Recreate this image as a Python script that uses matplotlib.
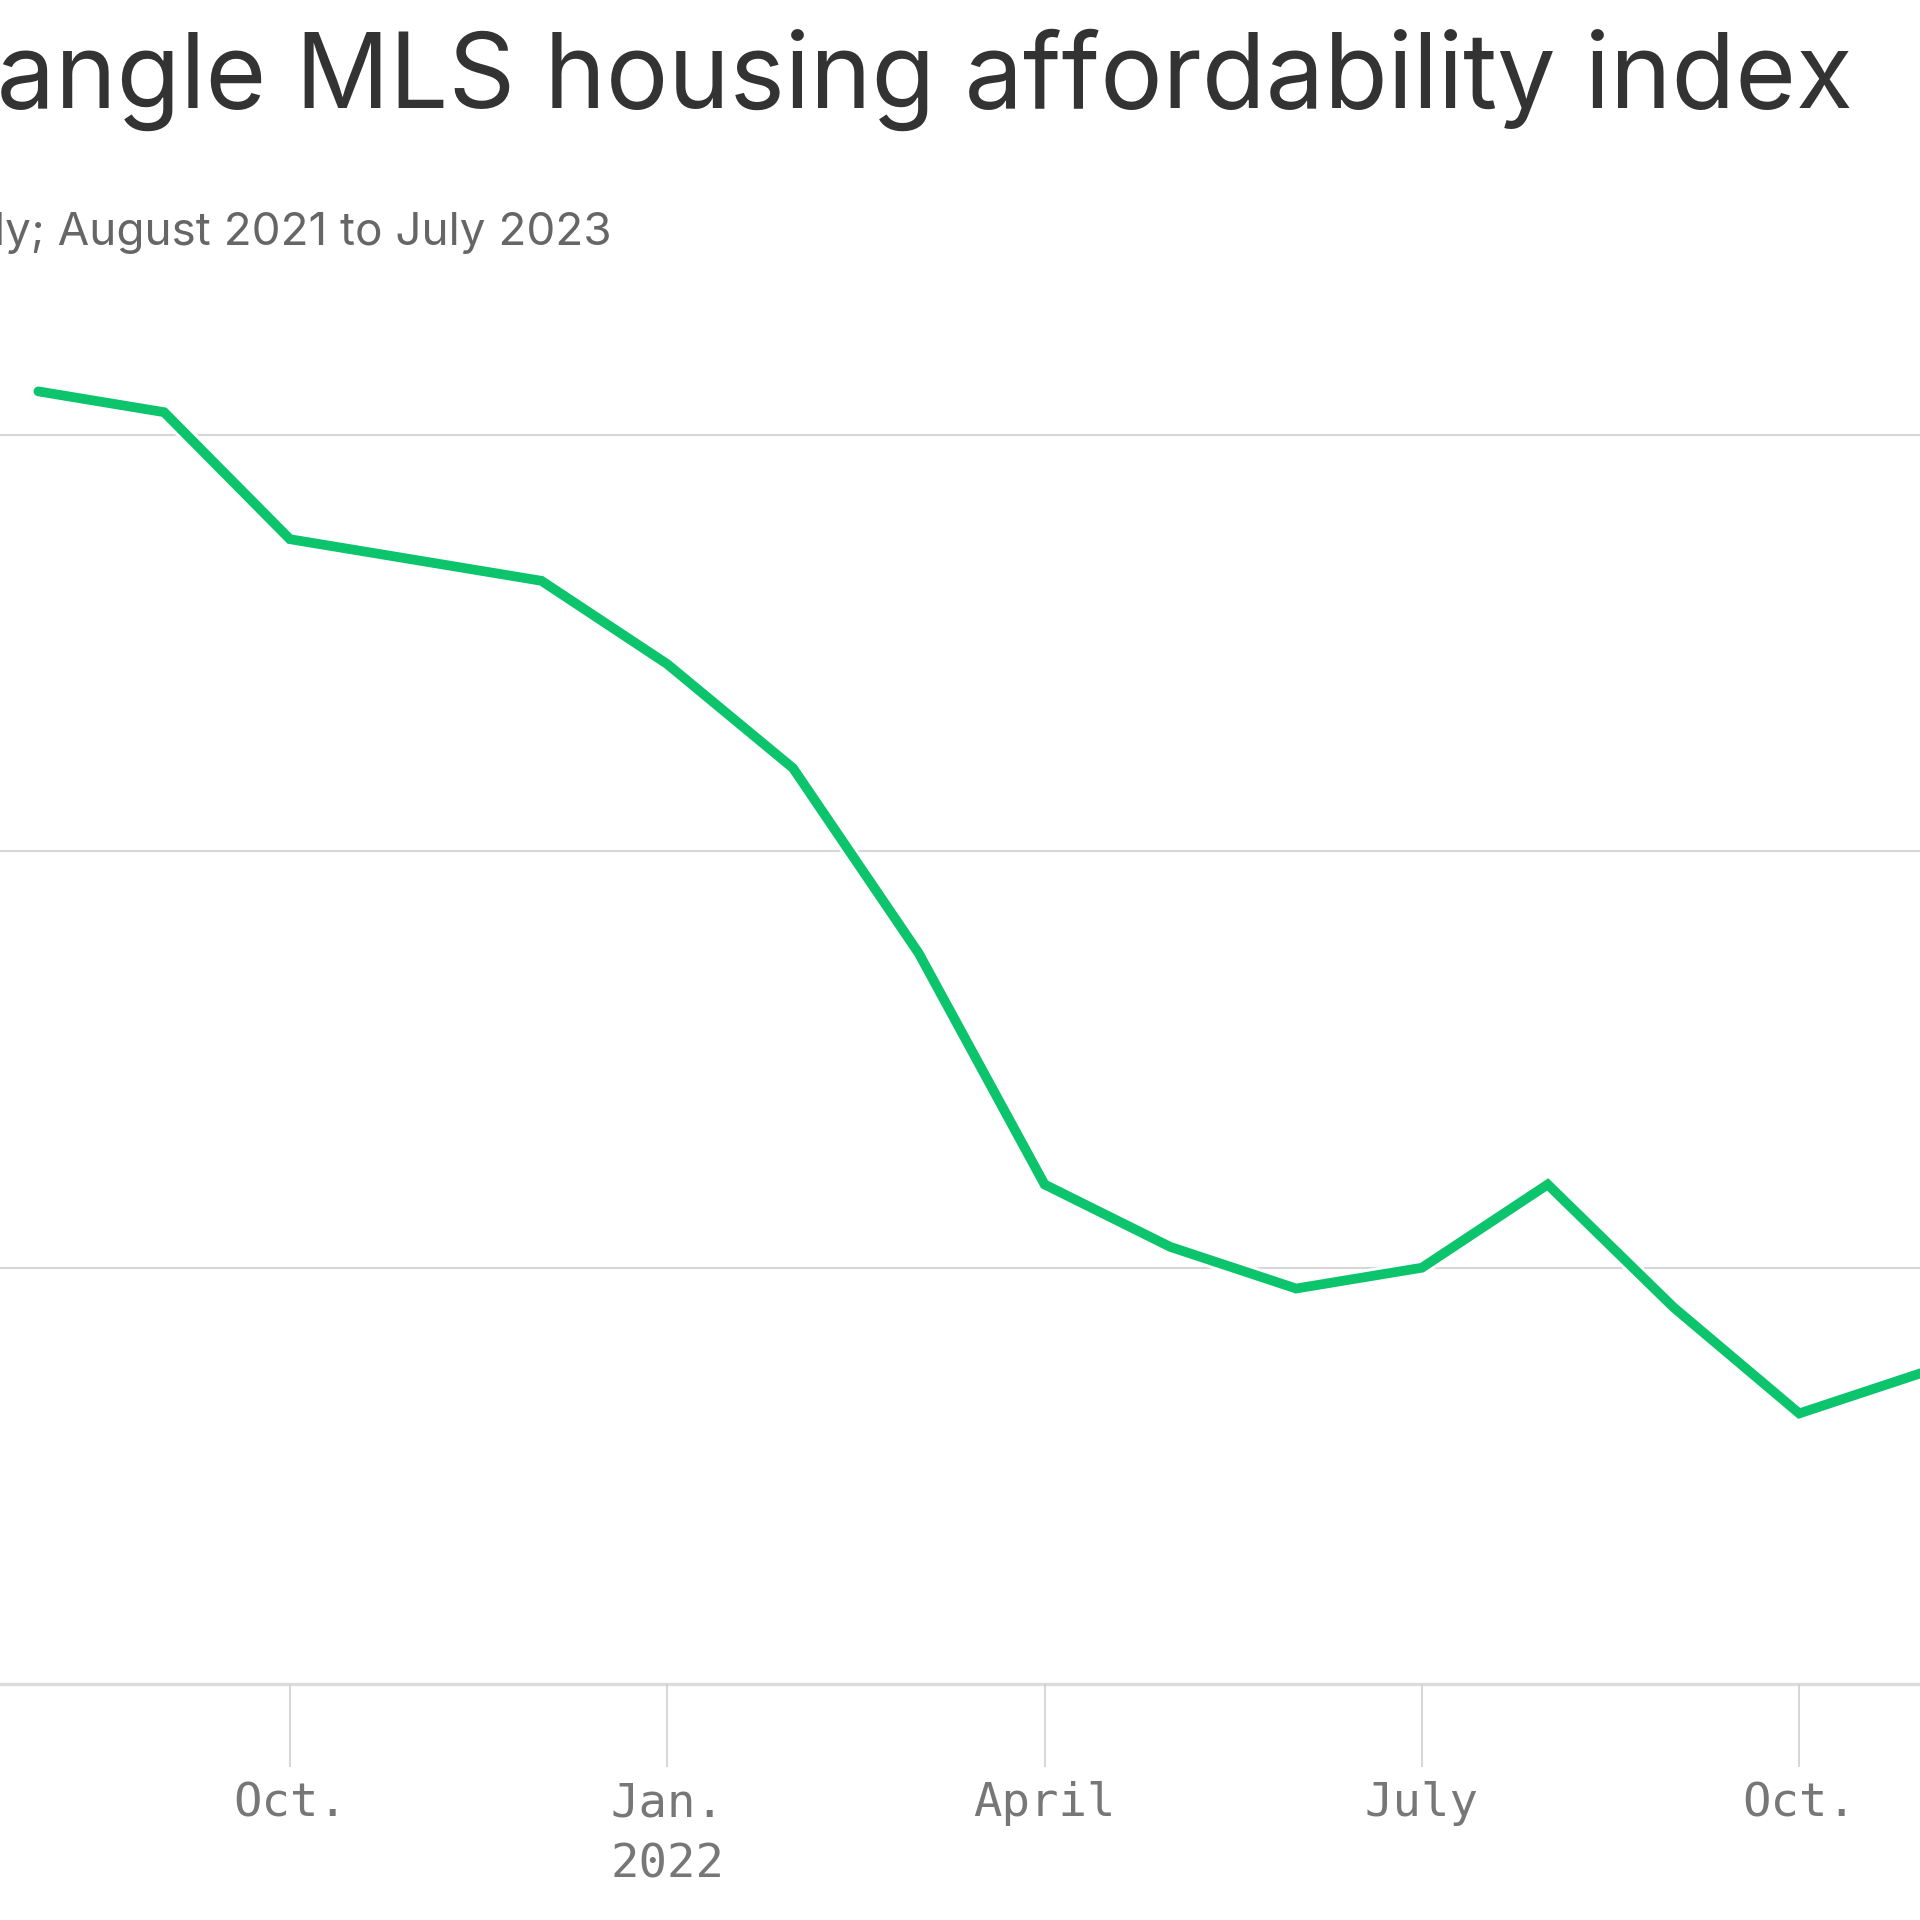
import matplotlib.pyplot as plt
import matplotlib.patheffects as pe

# Triangle MLS housing affordability index, monthly (visible part only)
months = ['Aug 2021', 'Sep 2021', 'Oct 2021', 'Nov 2021', 'Dec 2021',
          'Jan 2022', 'Feb 2022', 'Mar 2022', 'Apr 2022', 'May 2022',
          'Jun 2022', 'Jul 2022', 'Aug 2022', 'Sep 2022', 'Oct 2022',
          'Nov 2022']
index_values = [122.1, 121.1, 115.0, 114.0, 113.0,
                109.0, 104.0, 95.1, 84.0, 81.0,
                79.0, 80.0, 84.0, 78.1, 73.0,
                75.0]

tick_months = ['Oct 2021', 'Jan 2022', 'Apr 2022', 'Jul 2022', 'Oct 2022']
tick_labels = ['Oct.', 'Jan.\n2022', 'April', 'July', 'Oct.']
grid_values = [60, 80, 100, 120]

title = 'Triangle MLS housing affordability index'
subtitle = 'Monthly; August 2021 to July 2023'

x = list(range(len(months)))

fig = plt.figure(figsize=(19.2, 19.2), dpi=100)
fig.patch.set_facecolor('white')

ax = fig.add_axes([0, 0.1229, 1, 0.7177])
ax.plot(x, index_values, color='#0bc46c', linewidth=7,
        solid_capstyle='round', solid_joinstyle='miter', zorder=3,
        path_effects=[pe.Stroke(linewidth=11, foreground='white'), pe.Normal()])

ax.set_xlim(-0.305, 14.96)
ax.set_ylim(60, 126.2)

# gridlines
ax.set_yticks(grid_values)
ax.set_yticklabels([])
ax.tick_params(axis='y', length=0)
for g in grid_values[1:]:
    ax.axhline(g, color='#d6d6d6', linewidth=1.5, zorder=1)
ax.axhline(grid_values[0], color='#dcdcdc', linewidth=2.4, zorder=1, clip_on=False)

ax.set_xticks([months.index(m) for m in tick_months])
ax.set_xticklabels(tick_labels, fontfamily='DejaVu Sans Mono', fontsize=34,
                   color='#777777', linespacing=1.45)
ax.tick_params(axis='x', length=60, width=1.2, color='#d0d0d0', pad=10)

for s in ax.spines.values():
    s.set_visible(False)

fig.text(1853 / 1920, 1 - 108 / 1920, title, ha='right', va='baseline',
         fontsize=75, color='#333333', fontfamily='Inter')
fig.text(612 / 1920, 1 - 245 / 1920, subtitle, ha='right', va='baseline',
         fontsize=33, color='#666666', fontfamily='Inter')

fig.savefig('out.png', dpi=100, facecolor='white')
